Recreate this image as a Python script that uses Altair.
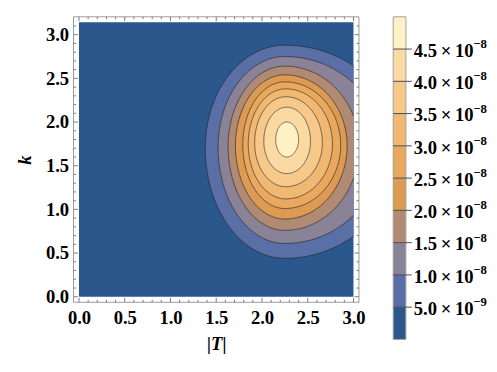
import altair as alt
import pandas as pd
import numpy as np

# ---- data ----
# contour levels of the plotted quantity
levels = [5e-9, 1e-8, 1.5e-8, 2e-8, 2.5e-8, 3e-8, 3.5e-8, 4e-8, 4.5e-8]
# extents of every contour (|T| on x, k on y)
left_ext = [1.38, 1.52, 1.63, 1.71, 1.79, 1.85, 1.92, 2.02, 2.15]
right_ext = [3.50, 3.31, 3.06, 2.93, 2.86, 2.77, 2.66, 2.53, 2.40]
top_ext = [2.88, 2.75, 2.64, 2.54, 2.46, 2.38, 2.29, 2.17, 2.00]
bottom_ext = [0.44, 0.61, 0.76, 0.89, 1.01, 1.12, 1.26, 1.41, 1.60]
center_x = [2.25, 2.25, 2.25, 2.25, 2.25, 2.26, 2.26, 2.27, 2.27]
center_y = [1.70, 1.71, 1.72, 1.73, 1.74, 1.75, 1.76, 1.78, 1.80]
# band colours, lowest band first
band_colors = ["#2a578c", "#5a6fa6", "#8a8296", "#b08a72", "#dd9a52",
               "#e8a95f", "#f0b872", "#f6c98a", "#fad9a2", "#fff1c4"]
band_bounds = [0.0, 5e-9, 1e-8, 1.5e-8, 2e-8, 2.5e-8, 3e-8, 3.5e-8, 4e-8, 4.5e-8, 5e-8]
legend_main = ["5.0\u2009×\u200910", "1.0\u2009×\u200910", "1.5\u2009×\u200910", "2.0\u2009×\u200910",
               "2.5\u2009×\u200910", "3.0\u2009×\u200910", "3.5\u2009×\u200910", "4.0\u2009×\u200910",
               "4.5\u2009×\u200910"]
legend_exp = ["−9", "−8", "−8", "−8", "−8", "−8", "−8", "−8", "−8"]
x_major = [0.0, 0.5, 1.0, 1.5, 2.0, 2.5, 3.0]
y_major = [0.0, 0.5, 1.0, 1.5, 2.0, 2.5, 3.0]
T_MAX = 3.0
K_MAX = 3.14159

W, H = 292, 292
FONT = "Liberation Serif"
FS = 19

xs = alt.Scale(domain=[-0.06, 3.06], nice=False, zero=False)
ys = alt.Scale(domain=[-0.063, 3.205], nice=False, zero=False)
xaxis = alt.Axis(values=x_major, format=".1f", ticks=False, domain=False, grid=False,
                 labelFont=FONT, labelFontWeight="bold", labelFontSize=FS, labelColor="black",
                 labelPadding=7, title="|T|", titleFont=FONT, titleFontStyle="italic",
                 titleFontWeight="bold", titleFontSize=FS, titlePadding=7, titleColor="black")
yaxis = alt.Axis(values=y_major, format=".1f", ticks=False, domain=False, grid=False,
                 labelFont=FONT, labelFontWeight="bold", labelFontSize=FS, labelColor="black",
                 labelPadding=5, title="k", titleFont=FONT, titleFontStyle="italic",
                 titleFontWeight="bold", titleFontSize=FS, titlePadding=11, titleColor="black")


def X(f="x"):
    return alt.X(f"{f}:Q", scale=xs, axis=xaxis)


def Y(f="y"):
    return alt.Y(f"{f}:Q", scale=ys, axis=yaxis)


def shape_params(i):
    xc, yc = center_x[i], center_y[i]
    return (xc, yc, xc - left_ext[i], right_ext[i] - xc, top_ext[i] - yc, yc - bottom_ext[i])


def area_df(i, n=260):
    xc, yc, L, R, T, B = shape_params(i)
    pmin = np.arccos((T_MAX - xc) / R) if right_ext[i] > T_MAX else 0.0
    phi = np.linspace(np.pi, pmin, n)
    c = np.cos(phi)
    s = np.sin(phi)
    x = xc + np.where(c < 0, L, R) * c
    return pd.DataFrame({"x": x, "hi": yc + T * s, "lo": yc - B * s})


def line_df(i, n=400):
    xc, yc, L, R, T, B = shape_params(i)
    pmin = np.arccos((T_MAX - xc) / R) if right_ext[i] > T_MAX else 0.0
    phi = np.linspace(pmin, 2 * np.pi - pmin, n)
    c = np.cos(phi)
    s = np.sin(phi)
    x = xc + np.where(c < 0, L, R) * c
    y = yc + np.where(s >= 0, T, B) * s
    return pd.DataFrame({"x": x, "y": y, "idx": np.arange(n), "lev": i})


layers = []
bg = pd.DataFrame({"x": [0.0], "x2": [T_MAX], "y": [0.0], "y2": [K_MAX]})
layers.append(alt.Chart(bg).mark_rect(color=band_colors[0]).encode(
    x=X(), x2="x2:Q", y=Y(), y2="y2:Q"))
for i in range(len(levels)):
    layers.append(alt.Chart(area_df(i)).mark_area(color=band_colors[i + 1], clip=True).encode(
        x=X(), y=Y("hi"), y2="lo:Q"))
lines = pd.concat([line_df(i) for i in range(len(levels))], ignore_index=True)
layers.append(alt.Chart(lines).mark_line(color="#222222", strokeWidth=0.8, opacity=0.8, clip=True).encode(
    x=X(), y=Y(), detail="lev:N", order="idx:Q"))

# frame
frame_df = pd.DataFrame({"a": [0]})
layers.append(alt.Chart(frame_df).mark_rect(fill=None, stroke="#9a9a9a", strokeWidth=1).encode(
    x=alt.value(0), x2=alt.value(W), y=alt.value(0), y2=alt.value(H)))

# inward frame ticks
xt = np.round(np.arange(0, 3.0001, 0.1), 2)
yt = np.round(np.arange(0, 3.1001, 0.1), 2)
xt_maj = pd.DataFrame({"x": [v for v in xt if abs(v * 2 - round(v * 2)) < 1e-6]})
xt_min = pd.DataFrame({"x": [v for v in xt if abs(v * 2 - round(v * 2)) >= 1e-6]})
yt_maj = pd.DataFrame({"y": [v for v in yt if abs(v * 2 - round(v * 2)) < 1e-6]})
yt_min = pd.DataFrame({"y": [v for v in yt if abs(v * 2 - round(v * 2)) >= 1e-6]})
tc = "#7a7a7a"
for df, ln in [(xt_maj, 4.5), (xt_min, 2.5)]:
    layers.append(alt.Chart(df).mark_rule(color=tc, strokeWidth=1).encode(
        x=X(), y=alt.value(H), y2=alt.value(H - ln)))
    layers.append(alt.Chart(df).mark_rule(color=tc, strokeWidth=1).encode(
        x=X(), y=alt.value(0), y2=alt.value(ln)))
for df, ln in [(yt_maj, 4.5), (yt_min, 2.5)]:
    layers.append(alt.Chart(df).mark_rule(color=tc, strokeWidth=1).encode(
        y=Y(), x=alt.value(0), x2=alt.value(ln)))
    layers.append(alt.Chart(df).mark_rule(color=tc, strokeWidth=1).encode(
        y=Y(), x=alt.value(W), x2=alt.value(W - ln)))

main = alt.layer(*layers).properties(width=W, height=H)

# ---- colour bar legend ----
LH = 330
ls = alt.Scale(domain=[0, 5e-8], nice=False, zero=False)
bands = pd.DataFrame({"lo": band_bounds[:-1], "hi": band_bounds[1:], "c": band_colors})
lab = pd.DataFrame({"v": levels, "m": legend_main, "e": legend_exp})
whole = pd.DataFrame({"lo": [0.0], "hi": [5e-8]})
leg = alt.layer(
    alt.Chart(bands).mark_rect().encode(
        y=alt.Y("lo:Q", scale=ls, axis=None), y2="hi:Q",
        x=alt.value(0), x2=alt.value(13), color=alt.Color("c:N", scale=None)),
    alt.Chart(whole).mark_rect(fill=None, stroke="#a0a0a0", strokeWidth=1).encode(
        y=alt.Y("lo:Q", scale=ls, axis=None), y2="hi:Q", x=alt.value(0), x2=alt.value(13)),
    alt.Chart(lab).mark_rule(color="#4a4a4a", strokeWidth=1).encode(
        y=alt.Y("v:Q", scale=ls, axis=None), x=alt.value(0), x2=alt.value(19)),
    alt.Chart(lab).mark_text(align="left", baseline="middle", font=FONT, fontWeight="bold",
                             fontSize=FS, color="black", dy=2).encode(
        y=alt.Y("v:Q", scale=ls, axis=None), x=alt.value(21), text="m:N"),
    alt.Chart(lab).mark_text(align="left", baseline="middle", font=FONT, fontWeight="bold",
                             fontSize=13, color="black", dy=-5).encode(
        y=alt.Y("v:Q", scale=ls, axis=None), x=alt.value(82), text="e:N"),
).properties(width=98, height=LH)

chart = alt.hconcat(main, leg, spacing=27).properties(
    padding={"left": 8, "top": 4, "right": 0, "bottom": 0}
).configure_view(stroke=None)

chart.save("out.html", embed_options={"renderer": "svg", "actions": False})
